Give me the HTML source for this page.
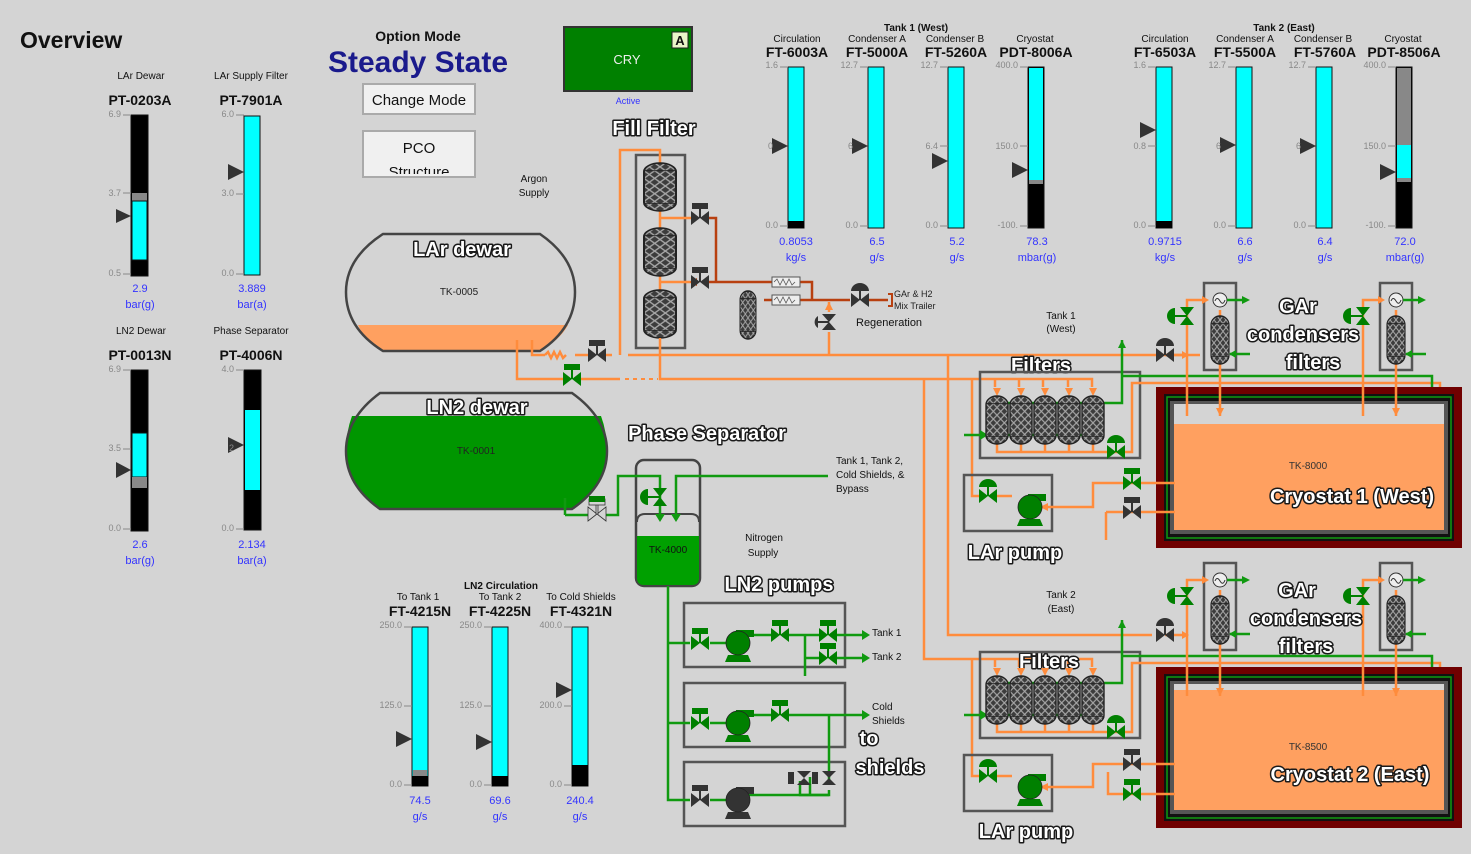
<!DOCTYPE html>
<html><head><meta charset="utf-8"><style>
html,body{margin:0;padding:0;background:#d4d4d4;}
svg{display:block;font-family:"Liberation Sans",sans-serif;}
.o{fill:#fff;stroke:#1a1a1a;stroke-width:3;paint-order:stroke;font-weight:bold;font-size:20px;stroke-linejoin:round;}
.sm{font-size:10px;fill:#111;}
.tag{font-size:14px;font-weight:bold;fill:#111;}
.sc{font-size:9px;fill:#888;}
.val{font-size:11px;fill:#3333ff;}
.pO{stroke:#ff8c3c;stroke-width:2.5;fill:none;}
.pG{stroke:#109a10;stroke-width:2.5;fill:none;}
.pB{stroke:#b84010;stroke-width:2.5;fill:none;}
.box{fill:none;stroke:#555;stroke-width:2.5;}
</style></head><body>
<svg width="1471" height="854" viewBox="0 0 1471 854" xmlns="http://www.w3.org/2000/svg">
<defs>
<pattern id="hx" width="8" height="8" patternUnits="userSpaceOnUse">
<rect width="8" height="8" fill="#3c3c3c"/>
<path d="M0,0 L8,8 M8,0 L0,8" stroke="#a8a8a8" stroke-width="1.2"/>
</pattern>
<symbol id="ves" viewBox="0 0 24 50" preserveAspectRatio="none" overflow="visible">
<rect x="0" y="0" width="24" height="50" rx="12" ry="9" fill="url(#hx)" stroke="#222" stroke-width="1.5"/>
<line x1="0" y1="8" x2="24" y2="8" stroke="#222"/><line x1="0" y1="42" x2="24" y2="42" stroke="#222"/>
</symbol>
<symbol id="vR" overflow="visible"><polygon points="-9,-7 0,0 -9,7"/><polygon points="9,-7 0,0 9,7"/><rect x="-1" y="-10" width="2" height="10"/><rect x="-8" y="-15" width="16" height="6"/></symbol>
<symbol id="vD" overflow="visible"><polygon points="-9,-7 0,0 -9,7"/><polygon points="9,-7 0,0 9,7"/><rect x="-1" y="-10" width="2" height="10"/><path d="M-9,-9 A9,8 0 0 1 9,-9 Z"/></symbol>
<symbol id="vV" overflow="visible"><polygon points="-7,-9 0,0 7,-9"/><polygon points="-7,9 0,0 7,9"/><rect x="-12" y="-1" width="12" height="2"/><path d="M-12,-8 A8,8 0 0 0 -12,8 Z"/></symbol>
<symbol id="pump" overflow="visible"><rect x="-2" y="-13" width="18" height="7"/><polygon points="-10,12 10,12 13,19 -13,19"/><circle cx="0" cy="0" r="12" stroke="#222" stroke-width="0.8"/></symbol>
</defs>
<rect width="1471" height="854" fill="#d4d4d4"/>

<!-- Titles -->
<text x="20" y="48" font-size="23" font-weight="bold" fill="#111">Overview</text>
<text x="418" y="41" text-anchor="middle" font-size="14" font-weight="bold" fill="#111">Option Mode</text>
<text x="418" y="72" text-anchor="middle" font-size="30" font-weight="bold" fill="#1a1a8c">Steady State</text>
<rect x="363" y="84" width="112" height="30" fill="#f0f0f0" stroke="#aaa" stroke-width="2"/>
<text x="419" y="105" text-anchor="middle" font-size="15" fill="#111">Change Mode</text>
<rect x="363" y="131" width="112" height="46" fill="#f0f0f0" stroke="#aaa" stroke-width="2"/>
<text x="419" y="153" text-anchor="middle" font-size="15" fill="#111">PCO</text>
<svg x="363" y="131" width="112" height="43" overflow="hidden"><text x="56" y="46" text-anchor="middle" font-size="15" fill="#111">Structure</text></svg>
<rect x="564" y="27" width="128" height="64" fill="#008000" stroke="#333" stroke-width="2"/>
<text x="627" y="64" text-anchor="middle" font-size="13" fill="#eee">CRY</text>
<rect x="672" y="32" width="16" height="16" fill="#eaf5c8" stroke="#222"/>
<text x="680" y="45" text-anchor="middle" font-size="13" font-weight="bold" fill="#111">A</text>
<text x="628" y="104" text-anchor="middle" font-size="9" fill="#3333ff">Active</text>

<!-- Left gauges -->
<g>
<text x="141" y="79" text-anchor="middle" class="sm">LAr Dewar</text>
<text x="140" y="105" text-anchor="middle" class="tag">PT-0203A</text>
<rect x="131" y="115" width="17" height="161" fill="#000" stroke="#111"/>
<rect x="132" y="193" width="15" height="8" fill="#888"/>
<rect x="132" y="201" width="15" height="59" fill="#00ffff" stroke="#111"/>
<polygon points="116,209 131,216 116,223" fill="#333"/>
<text x="121" y="117" text-anchor="end" class="sc">6.9</text><line x1="123" y1="115" x2="131" y2="115" stroke="#888"/>
<text x="121" y="196" text-anchor="end" class="sc">3.7</text><line x1="123" y1="193" x2="131" y2="193" stroke="#888"/>
<text x="121" y="276" text-anchor="end" class="sc">0.5</text><line x1="123" y1="274" x2="131" y2="274" stroke="#888"/>
<text x="140" y="292" text-anchor="middle" class="val">2.9</text><text x="140" y="308" text-anchor="middle" class="val">bar(g)</text>

<text x="251" y="79" text-anchor="middle" class="sm">LAr Supply Filter</text>
<text x="251" y="105" text-anchor="middle" class="tag">PT-7901A</text>
<rect x="244" y="116" width="16" height="159" fill="#00ffff" stroke="#111"/>
<polygon points="228,164 244,172 228,180" fill="#333"/>
<text x="234" y="117" text-anchor="end" class="sc">6.0</text><line x1="236" y1="115" x2="244" y2="115" stroke="#888"/>
<text x="234" y="196" text-anchor="end" class="sc">3.0</text><line x1="236" y1="194" x2="244" y2="194" stroke="#888"/>
<text x="234" y="276" text-anchor="end" class="sc">0.0</text><line x1="236" y1="274" x2="244" y2="274" stroke="#888"/>
<text x="252" y="292" text-anchor="middle" class="val">3.889</text><text x="252" y="308" text-anchor="middle" class="val">bar(a)</text>

<text x="141" y="334" text-anchor="middle" class="sm">LN2 Dewar</text>
<text x="140" y="360" text-anchor="middle" class="tag">PT-0013N</text>
<rect x="131" y="370" width="17" height="161" fill="#000" stroke="#111"/>
<rect x="132" y="433" width="15" height="44" fill="#00ffff" stroke="#111"/>
<rect x="132" y="477" width="15" height="11" fill="#888"/>
<polygon points="116,462 131,470 116,478" fill="#333"/>
<text x="121" y="372" text-anchor="end" class="sc">6.9</text><line x1="123" y1="370" x2="131" y2="370" stroke="#888"/>
<text x="121" y="451" text-anchor="end" class="sc">3.5</text><line x1="123" y1="449" x2="131" y2="449" stroke="#888"/>
<text x="121" y="531" text-anchor="end" class="sc">0.0</text><line x1="123" y1="529" x2="131" y2="529" stroke="#888"/>
<text x="140" y="548" text-anchor="middle" class="val">2.6</text><text x="140" y="564" text-anchor="middle" class="val">bar(g)</text>

<text x="251" y="334" text-anchor="middle" class="sm">Phase Separator</text>
<text x="251" y="360" text-anchor="middle" class="tag">PT-4006N</text>
<rect x="244" y="370" width="17" height="160" fill="#000" stroke="#111"/>
<rect x="245" y="410" width="15" height="80" fill="#00ffff"/>
<polygon points="228,437 244,445 228,453" fill="#333"/>
<text x="234" y="372" text-anchor="end" class="sc">4.0</text><line x1="236" y1="370" x2="244" y2="370" stroke="#888"/>
<text x="234" y="451" text-anchor="end" class="sc">2</text>
<text x="234" y="531" text-anchor="end" class="sc">0.0</text><line x1="236" y1="529" x2="244" y2="529" stroke="#888"/>
<text x="252" y="548" text-anchor="middle" class="val">2.134</text><text x="252" y="564" text-anchor="middle" class="val">bar(a)</text>
</g>

<!-- Top gauges Tank1 -->
<text x="916" y="31" text-anchor="middle" font-size="10" font-weight="bold" fill="#111">Tank 1 (West)</text>
<text x="797" y="42" text-anchor="middle" class="sm">Circulation</text>
<text x="877" y="42" text-anchor="middle" class="sm">Condenser A</text>
<text x="955" y="42" text-anchor="middle" class="sm">Condenser B</text>
<text x="1035" y="42" text-anchor="middle" class="sm">Cryostat</text>
<text x="797" y="57" text-anchor="middle" class="tag">FT-6003A</text>
<text x="877" y="57" text-anchor="middle" class="tag">FT-5000A</text>
<text x="956" y="57" text-anchor="middle" class="tag">FT-5260A</text>
<text x="1036" y="57" text-anchor="middle" class="tag">PDT-8006A</text>
<g>
<rect x="788" y="67" width="16" height="161" fill="#00ffff" stroke="#111"/><rect x="788" y="221" width="16" height="7" fill="#000"/>
<polygon points="772,138 788,146 772,154" fill="#333"/>
<text x="778" y="68" text-anchor="end" class="sc">1.6</text><line x1="780" y1="67" x2="788" y2="67" stroke="#888"/>
<text x="773" y="149" text-anchor="end" class="sc">0</text>
<text x="778" y="228" text-anchor="end" class="sc">0.0</text><line x1="780" y1="226" x2="788" y2="226" stroke="#888"/>
<text x="796" y="245" text-anchor="middle" class="val">0.8053</text><text x="796" y="261" text-anchor="middle" class="val">kg/s</text>

<rect x="868" y="67" width="16" height="161" fill="#00ffff" stroke="#111"/>
<polygon points="852,138 868,146 852,154" fill="#333"/>
<text x="858" y="68" text-anchor="end" class="sc">12.7</text><line x1="860" y1="67" x2="868" y2="67" stroke="#888"/>
<text x="853" y="149" text-anchor="end" class="sc">6</text>
<text x="858" y="228" text-anchor="end" class="sc">0.0</text><line x1="860" y1="226" x2="868" y2="226" stroke="#888"/>
<text x="877" y="245" text-anchor="middle" class="val">6.5</text><text x="877" y="261" text-anchor="middle" class="val">g/s</text>

<rect x="948" y="67" width="16" height="161" fill="#00ffff" stroke="#111"/>
<polygon points="932,153 948,161 932,169" fill="#333"/>
<text x="938" y="68" text-anchor="end" class="sc">12.7</text><line x1="940" y1="67" x2="948" y2="67" stroke="#888"/>
<text x="938" y="149" text-anchor="end" class="sc">6.4</text><line x1="940" y1="146" x2="948" y2="146" stroke="#888"/>
<text x="938" y="228" text-anchor="end" class="sc">0.0</text><line x1="940" y1="226" x2="948" y2="226" stroke="#888"/>
<text x="957" y="245" text-anchor="middle" class="val">5.2</text><text x="957" y="261" text-anchor="middle" class="val">g/s</text>

<rect x="1028" y="67" width="16" height="161" fill="#000" stroke="#111"/><rect x="1029" y="68" width="14" height="112" fill="#00ffff"/><rect x="1029" y="180" width="14" height="4" fill="#888"/>
<polygon points="1012,162 1028,170 1012,178" fill="#333"/>
<text x="1018" y="68" text-anchor="end" class="sc">400.0</text><line x1="1020" y1="67" x2="1028" y2="67" stroke="#888"/>
<text x="1018" y="149" text-anchor="end" class="sc">150.0</text><line x1="1020" y1="146" x2="1028" y2="146" stroke="#888"/>
<text x="1018" y="228" text-anchor="end" class="sc">-100.</text><line x1="1020" y1="226" x2="1028" y2="226" stroke="#888"/>
<text x="1037" y="245" text-anchor="middle" class="val">78.3</text><text x="1037" y="261" text-anchor="middle" class="val">mbar(g)</text>
</g>
<!-- Tank2 gauges -->
<text x="1284" y="31" text-anchor="middle" font-size="10" font-weight="bold" fill="#111">Tank 2 (East)</text>
<text x="1165" y="42" text-anchor="middle" class="sm">Circulation</text>
<text x="1245" y="42" text-anchor="middle" class="sm">Condenser A</text>
<text x="1323" y="42" text-anchor="middle" class="sm">Condenser B</text>
<text x="1403" y="42" text-anchor="middle" class="sm">Cryostat</text>
<text x="1165" y="57" text-anchor="middle" class="tag">FT-6503A</text>
<text x="1245" y="57" text-anchor="middle" class="tag">FT-5500A</text>
<text x="1325" y="57" text-anchor="middle" class="tag">FT-5760A</text>
<text x="1404" y="57" text-anchor="middle" class="tag">PDT-8506A</text>
<g>
<rect x="1156" y="67" width="16" height="161" fill="#00ffff" stroke="#111"/><rect x="1156" y="221" width="16" height="7" fill="#000"/>
<polygon points="1140,122 1156,130 1140,138" fill="#333"/>
<text x="1146" y="68" text-anchor="end" class="sc">1.6</text><line x1="1148" y1="67" x2="1156" y2="67" stroke="#888"/>
<text x="1146" y="149" text-anchor="end" class="sc">0.8</text><line x1="1148" y1="146" x2="1156" y2="146" stroke="#888"/>
<text x="1146" y="228" text-anchor="end" class="sc">0.0</text><line x1="1148" y1="226" x2="1156" y2="226" stroke="#888"/>
<text x="1165" y="245" text-anchor="middle" class="val">0.9715</text><text x="1165" y="261" text-anchor="middle" class="val">kg/s</text>

<rect x="1236" y="67" width="16" height="161" fill="#00ffff" stroke="#111"/>
<polygon points="1220,137 1236,145 1220,153" fill="#333"/>
<text x="1226" y="68" text-anchor="end" class="sc">12.7</text><line x1="1228" y1="67" x2="1236" y2="67" stroke="#888"/>
<text x="1221" y="149" text-anchor="end" class="sc">6</text>
<text x="1226" y="228" text-anchor="end" class="sc">0.0</text><line x1="1228" y1="226" x2="1236" y2="226" stroke="#888"/>
<text x="1245" y="245" text-anchor="middle" class="val">6.6</text><text x="1245" y="261" text-anchor="middle" class="val">g/s</text>

<rect x="1316" y="67" width="16" height="161" fill="#00ffff" stroke="#111"/>
<polygon points="1300,138 1316,146 1300,154" fill="#333"/>
<text x="1306" y="68" text-anchor="end" class="sc">12.7</text><line x1="1308" y1="67" x2="1316" y2="67" stroke="#888"/>
<text x="1301" y="149" text-anchor="end" class="sc">6</text>
<text x="1306" y="228" text-anchor="end" class="sc">0.0</text><line x1="1308" y1="226" x2="1316" y2="226" stroke="#888"/>
<text x="1325" y="245" text-anchor="middle" class="val">6.4</text><text x="1325" y="261" text-anchor="middle" class="val">g/s</text>

<rect x="1396" y="67" width="16" height="161" fill="#000" stroke="#111"/><rect x="1397" y="68" width="14" height="77" fill="#888"/><rect x="1397" y="145" width="14" height="33" fill="#00ffff"/><rect x="1397" y="178" width="14" height="4" fill="#888"/>
<polygon points="1380,164 1396,172 1380,180" fill="#333"/>
<text x="1386" y="68" text-anchor="end" class="sc">400.0</text><line x1="1388" y1="67" x2="1396" y2="67" stroke="#888"/>
<text x="1386" y="149" text-anchor="end" class="sc">150.0</text><line x1="1388" y1="146" x2="1396" y2="146" stroke="#888"/>
<text x="1386" y="228" text-anchor="end" class="sc">-100.</text><line x1="1388" y1="226" x2="1396" y2="226" stroke="#888"/>
<text x="1405" y="245" text-anchor="middle" class="val">72.0</text><text x="1405" y="261" text-anchor="middle" class="val">mbar(g)</text>
</g>

<!-- Bottom gauges -->
<text x="418" y="600" text-anchor="middle" class="sm">To Tank 1</text>
<text x="501" y="589" text-anchor="middle" font-size="10" font-weight="bold" fill="#111">LN2 Circulation</text>
<text x="500" y="600" text-anchor="middle" class="sm">To Tank 2</text>
<text x="581" y="600" text-anchor="middle" class="sm">To Cold Shields</text>
<text x="420" y="616" text-anchor="middle" class="tag">FT-4215N</text>
<text x="500" y="616" text-anchor="middle" class="tag">FT-4225N</text>
<text x="581" y="616" text-anchor="middle" class="tag">FT-4321N</text>
<g>
<rect x="412" y="627" width="16" height="159" fill="#00ffff" stroke="#111"/><rect x="413" y="770" width="14" height="6" fill="#888"/><rect x="412" y="776" width="16" height="10" fill="#000"/>
<polygon points="396,731 412,739 396,747" fill="#333"/>
<text x="402" y="628" text-anchor="end" class="sc">250.0</text><line x1="404" y1="627" x2="412" y2="627" stroke="#888"/>
<text x="402" y="708" text-anchor="end" class="sc">125.0</text><line x1="404" y1="706" x2="412" y2="706" stroke="#888"/>
<text x="402" y="787" text-anchor="end" class="sc">0.0</text><line x1="404" y1="785" x2="412" y2="785" stroke="#888"/>
<text x="420" y="804" text-anchor="middle" class="val">74.5</text><text x="420" y="820" text-anchor="middle" class="val">g/s</text>

<rect x="492" y="627" width="16" height="159" fill="#00ffff" stroke="#111"/><rect x="492" y="776" width="16" height="10" fill="#000"/>
<polygon points="476,734 492,742 476,750" fill="#333"/>
<text x="482" y="628" text-anchor="end" class="sc">250.0</text><line x1="484" y1="627" x2="492" y2="627" stroke="#888"/>
<text x="482" y="708" text-anchor="end" class="sc">125.0</text><line x1="484" y1="706" x2="492" y2="706" stroke="#888"/>
<text x="482" y="787" text-anchor="end" class="sc">0.0</text><line x1="484" y1="785" x2="492" y2="785" stroke="#888"/>
<text x="500" y="804" text-anchor="middle" class="val">69.6</text><text x="500" y="820" text-anchor="middle" class="val">g/s</text>

<rect x="572" y="627" width="16" height="159" fill="#00ffff" stroke="#111"/><rect x="572" y="765" width="16" height="21" fill="#000"/>
<polygon points="556,682 572,690 556,698" fill="#333"/>
<text x="562" y="628" text-anchor="end" class="sc">400.0</text><line x1="564" y1="627" x2="572" y2="627" stroke="#888"/>
<text x="562" y="708" text-anchor="end" class="sc">200.0</text><line x1="564" y1="706" x2="572" y2="706" stroke="#888"/>
<text x="562" y="787" text-anchor="end" class="sc">0.0</text><line x1="564" y1="785" x2="572" y2="785" stroke="#888"/>
<text x="580" y="804" text-anchor="middle" class="val">240.4</text><text x="580" y="820" text-anchor="middle" class="val">g/s</text>
</g>

<!-- LAr dewar -->
<path d="M383,234 H540 Q575,258 575,292 Q575,328 540,351 H383 Q346,328 346,292 Q346,258 383,234 Z" fill="#d4d4d4"/>
<path d="M358,325 H568 Q560,340 540,351 H383 Q364,340 358,325 Z" fill="#ffa060"/>
<path d="M383,234 H540 Q575,258 575,292 Q575,328 540,351 H383 Q346,328 346,292 Q346,258 383,234 Z" fill="none" stroke="#444" stroke-width="2.5"/>
<text x="462" y="256" text-anchor="middle" class="o">LAr dewar</text>
<text x="459" y="295" text-anchor="middle" font-size="10" fill="#222">TK-0005</text>
<text x="534" y="182" text-anchor="middle" class="sm">Argon</text>
<text x="534" y="196" text-anchor="middle" class="sm">Supply</text>

<!-- LN2 dewar -->
<path d="M380,393 H572 Q607,418 607,451 Q607,485 572,509 H380 Q346,485 346,451 Q346,418 380,393 Z" fill="#d4d4d4"/>
<path d="M352,416 H601 Q607,432 607,451 Q607,485 572,509 H380 Q346,485 346,451 Q346,432 352,416 Z" fill="#009600"/>
<path d="M380,393 H572 Q607,418 607,451 Q607,485 572,509 H380 Q346,485 346,451 Q346,418 380,393 Z" fill="none" stroke="#444" stroke-width="2.5"/>
<text x="477" y="414" text-anchor="middle" class="o">LN2 dewar</text>
<text x="476" y="454" text-anchor="middle" font-size="10" fill="#222">TK-0001</text>

<!-- Phase separator -->
<rect x="636" y="460" width="64" height="126" rx="8" fill="#d4d4d4" stroke="#444" stroke-width="2.5"/>
<path d="M637,536 H699 V578 Q699,585 692,585 H644 Q637,585 637,578 Z" fill="#00a000"/>
<path d="M637,522 Q637,514 645,514 H691 Q699,514 699,522" fill="none" stroke="#444" stroke-width="2"/>
<text x="668" y="553" text-anchor="middle" font-size="10" fill="#111">TK-4000</text>
<text x="707" y="440" text-anchor="middle" class="o">Phase Separator</text>
<path class="pG" d="M565,515 H589 M605,515 H618 V476 H660 V520 M676,520 V476 H828"/>
<polygon points="655,514 660,522 665,514" fill="#109a10"/><polygon points="671,514 676,522 681,514" fill="#109a10"/>
<use href="#vV" x="660" y="497" fill="#008000"/>
<use href="#vR" x="597" y="514" fill="#d4d4d4" stroke="#333" stroke-width="0.8"/>
<rect x="589" y="496" width="16" height="6" fill="#008000"/>
<path class="pG" d="M565,498 V515"/>
<text x="836" y="464" class="sm" font-size="9.5">Tank 1, Tank 2,</text>
<text x="836" y="478" class="sm" font-size="9.5">Cold Shields, &amp;</text>
<text x="836" y="492" class="sm" font-size="9.5">Bypass</text>
<text x="764" y="541" text-anchor="middle" class="sm">Nitrogen</text>
<text x="763" y="556" text-anchor="middle" class="sm">Supply</text>

<!-- LN2 pumps -->
<text x="779" y="591" text-anchor="middle" class="o">LN2 pumps</text>
<rect x="684" y="603" width="161" height="64" class="box"/>
<rect x="684" y="683" width="161" height="64" class="box"/>
<rect x="684" y="762" width="161" height="64" class="box"/>
<path class="pG" d="M668,586 V800 H690 M668,643 H690 M668,723 H690"/>
<path class="pG" d="M710,643 H728 M748,635 H772 M788,635 H820 M836,635 H862 M805,635 V658 H820 M836,658 H862 M805,658 V676"/>
<polygon points="862,630 870,635 862,640" fill="#109a10"/><polygon points="862,653 870,658 862,663" fill="#109a10"/>
<path class="pG" d="M710,723 H728 M748,715 H772 M788,715 H862 M829,715 V781 M829,790 V795 H800 V781 M810,795 V777"/>
<polygon points="862,710 870,715 862,720" fill="#109a10"/>
<path class="pG" d="M710,800 H728 M748,795 H829"/>
<use href="#pump" x="738" y="643" fill="#008000"/>
<use href="#pump" x="738" y="723" fill="#008000"/>
<use href="#pump" x="738" y="800" fill="#333"/>
<use href="#vR" x="700" y="643" fill="#008000"/>
<use href="#vR" x="780" y="635" fill="#008000"/>
<use href="#vR" x="828" y="635" fill="#008000"/>
<use href="#vR" x="828" y="658" fill="#008000"/>
<use href="#vR" x="700" y="723" fill="#008000"/>
<use href="#vR" x="780" y="715" fill="#008000"/>
<use href="#vR" x="700" y="800" fill="#333"/>
<g fill="#333"><polygon points="797,771 804,778 811,771"/><polygon points="797,785 804,778 811,785"/><rect x="788" y="772" width="6" height="12"/></g>
<g fill="#333"><polygon points="822,771 829,778 836,771"/><polygon points="822,785 829,778 836,785"/><rect x="812" y="772" width="6" height="12"/></g>
<text x="872" y="636" class="sm">Tank 1</text>
<text x="872" y="660" class="sm">Tank 2</text>
<text x="872" y="710" class="sm">Cold</text>
<text x="872" y="724" class="sm">Shields</text>
<text x="869" y="745" text-anchor="middle" class="o">to</text>
<text x="890" y="774" text-anchor="middle" class="o">shields</text>

<!-- Fill filter -->
<text x="654" y="135" text-anchor="middle" class="o">Fill Filter</text>
<rect x="636" y="155" width="49" height="193" class="box"/>
<path class="pO" d="M620,355 V150 H660 V163"/>
<path class="pO" d="M660,210 V228 M660,275 V290 M660,218 H692 M660,282 H692"/>
<use href="#ves" x="644" y="163" width="32" height="48"/>
<use href="#ves" x="644" y="228" width="32" height="48"/>
<use href="#ves" x="644" y="290" width="32" height="48"/>
<path class="pB" d="M708,218 H716 V282 H708 M716,282 H772 M800,282 H812 V300 H800 M772,300 H764 M812,300 H850 M868,300 H888"/>
<polygon points="690,282 697,278 697,286" fill="#b84010"/>
<rect x="772" y="277" width="28" height="10" fill="#eee" stroke="#555"/>
<rect x="772" y="295" width="28" height="10" fill="#eee" stroke="#555"/>
<path d="M774,282 l3,-3 l3,6 l3,-6 l3,6 l3,-6 l3,6 l3,-3 M774,300 l3,-3 l3,6 l3,-6 l3,6 l3,-6 l3,6 l3,-3" stroke="#555" fill="none" stroke-width="0.8"/>
<use href="#ves" x="740" y="291" width="16" height="48"/>
<use href="#vR" x="700" y="218" fill="#333"/>
<use href="#vR" x="700" y="282" fill="#333"/>
<use href="#vD" x="860" y="300" fill="#333"/>
<path d="M888,294 H892 V306 H888" stroke="#b84010" fill="none" stroke-width="2"/>
<text x="894" y="297" font-size="9" fill="#222">GAr &amp; H2</text>
<text x="894" y="309" font-size="9" fill="#222">Mix Trailer</text>
<g fill="#333"><polygon points="822,314 829,322 836,314"/><polygon points="822,330 829,322 836,330"/><path d="M818,316 A7,7 0 0 0 818,328 Z"/><rect x="818" y="321" width="11" height="2"/></g>
<path class="pO" d="M829,355 V332 M829,312 V302"/>
<polygon points="825,310 829,302 833,310" fill="#ff8c3c"/>
<text x="856" y="326" font-size="11" fill="#111">Regeneration</text>

<!-- main orange pipes -->
<path class="pO" d="M532,340 V355 H545 M575,355 H590 M605,355 H612 M628,355 H1200"/>
<path d="M545,355 l3,-3 l3,6 l3,-6 l3,6 l3,-6 l3,6 l3,-3" class="pO" stroke-width="1.5"/>
<use href="#vR" x="597" y="355" fill="#333" />
<path class="pO" d="M517,340 V379 H563 M581,379 H620 M660,338 V379 H1092 V387 M995,379 V387 M1019,379 V387 M1043,379 V387 M1068,379 V387"/>
<path d="M625,379 H658" stroke="#ff8c3c" stroke-width="2" stroke-dasharray="4,4"/>
<use href="#vR" x="572" y="379" fill="#008000"/>
<path class="pO" d="M948,355 V635 H1152 M924,379 V659 H1092 V667 M995,659 V667 M1019,659 V667 M1043,659 V667 M1068,659 V667"/>
<path class="pO" d="M972,379 V496 H980 M972,659 V776 H980"/>

<!-- Filters 1 -->
<text x="1041" y="372" text-anchor="middle" class="o">Filters</text>
<rect x="980" y="372" width="160" height="86" class="box"/>
<g fill="#ff8c3c"><polygon points="993,388 997,396 1001,388"/><polygon points="1017,388 1021,396 1025,388"/><polygon points="1041,388 1045,396 1049,388"/><polygon points="1065,388 1069,396 1073,388"/><polygon points="1089,388 1093,396 1097,388"/></g>
<path class="pG" d="M964,435 H985 M1000,403 H1122 V340 M1000,435 H1093"/>
<polygon points="980,430 988,435 980,440" fill="#109a10"/><polygon points="1118,348 1122,340 1126,348" fill="#109a10"/>
<path class="pO" d="M997,444 V452 H1132 V383 H1440 V410 M1021,444 V452 M1045,444 V452 M1069,444 V452 M1093,444 V452"/>
<path class="pG" d="M1122,376 H1432 V392"/>
<use href="#ves" x="986" y="396" width="22" height="48"/>
<use href="#ves" x="1010" y="396" width="22" height="48"/>
<use href="#ves" x="1034" y="396" width="22" height="48"/>
<use href="#ves" x="1058" y="396" width="22" height="48"/>
<use href="#ves" x="1082" y="396" width="22" height="48"/>
<use href="#vD" x="1116" y="452" fill="#008000"/>

<!-- Filters 2 -->
<text x="1049" y="668" text-anchor="middle" class="o">Filters</text>
<rect x="980" y="652" width="160" height="86" class="box"/>
<g fill="#ff8c3c"><polygon points="993,668 997,676 1001,668"/><polygon points="1017,668 1021,676 1025,668"/><polygon points="1041,668 1045,676 1049,668"/><polygon points="1065,668 1069,676 1073,668"/><polygon points="1089,668 1093,676 1097,668"/></g>
<path class="pG" d="M964,715 H985 M1000,683 H1122 V620 M1000,715 H1093"/>
<polygon points="980,710 988,715 980,720" fill="#109a10"/><polygon points="1118,628 1122,620 1126,628" fill="#109a10"/>
<path class="pO" d="M997,724 V732 H1132 V663 H1440 V690 M1021,724 V732 M1045,724 V732 M1069,724 V732 M1093,724 V732"/>
<path class="pG" d="M1122,656 H1432 V672"/>
<use href="#ves" x="986" y="676" width="22" height="48"/>
<use href="#ves" x="1010" y="676" width="22" height="48"/>
<use href="#ves" x="1034" y="676" width="22" height="48"/>
<use href="#ves" x="1058" y="676" width="22" height="48"/>
<use href="#ves" x="1082" y="676" width="22" height="48"/>
<use href="#vD" x="1116" y="732" fill="#008000"/>

<text x="1061" y="319" text-anchor="middle" class="sm">Tank 1</text>
<text x="1061" y="332" text-anchor="middle" class="sm">(West)</text>
<text x="1061" y="598" text-anchor="middle" class="sm">Tank 2</text>
<text x="1061" y="612" text-anchor="middle" class="sm">(East)</text>

<!-- Cryostat 1 -->
<rect x="1156" y="387" width="306" height="161" fill="#700000"/>
<rect x="1164" y="394" width="290" height="147" fill="#111"/>
<rect x="1167" y="397" width="284" height="141" fill="none" stroke="#109a10" stroke-width="1.5"/>
<rect x="1170" y="401" width="278" height="133" fill="#555"/>
<rect x="1174" y="404" width="270" height="126" fill="#d4d4d4"/>
<rect x="1174" y="424" width="270" height="106" fill="#ffa060"/>
<text x="1308" y="469" text-anchor="middle" font-size="10" fill="#333">TK-8000</text>
<text x="1352" y="503" text-anchor="middle" class="o">Cryostat 1 (West)</text>
<!-- Cryostat 2 -->
<rect x="1156" y="667" width="306" height="161" fill="#700000"/>
<rect x="1164" y="674" width="290" height="147" fill="#111"/>
<rect x="1167" y="677" width="284" height="141" fill="none" stroke="#109a10" stroke-width="1.5"/>
<rect x="1170" y="681" width="278" height="133" fill="#555"/>
<rect x="1174" y="684" width="270" height="126" fill="#d4d4d4"/>
<rect x="1174" y="690" width="270" height="120" fill="#ffa060"/>
<text x="1308" y="750" text-anchor="middle" font-size="10" fill="#333">TK-8500</text>
<text x="1350" y="781" text-anchor="middle" class="o">Cryostat 2  (East)</text>

<!-- condensers top -->
<g>
<rect x="1204" y="283" width="32" height="87" class="box"/>
<path class="pO" d="M1187,355 V300 H1205 M1187,355 V416 M1220,310 V416"/>
<path class="pO" d="M1165,355 H1182"/>
<polygon points="1182,351 1189,355 1182,359" fill="#ff8c3c"/>
<polygon points="1202,296 1209,300 1202,304" fill="#ff8c3c"/>
<polygon points="1216,408 1220,416 1224,408" fill="#ff8c3c"/>
<circle cx="1220" cy="300" r="7" fill="#eee" stroke="#333"/><path d="M1215,301 q2,-5 5,0 q3,5 5,-1" stroke="#333" fill="none"/>
<path class="pG" d="M1227,300 H1242 M1230,354 H1250"/>
<polygon points="1242,296 1250,300 1242,304" fill="#109a10"/><polygon points="1236,350 1229,354 1236,358" fill="#109a10"/>
<use href="#ves" x="1211" y="316" width="18" height="48"/>
<use href="#vV" x="1187" y="316" fill="#008000"/>
<use href="#vD" x="1165" y="355" fill="#333"/>
</g>
<g>
<rect x="1380" y="283" width="32" height="87" class="box"/>
<path class="pO" d="M1363,416 V300 H1381 M1396,310 V416"/>
<polygon points="1378,296 1385,300 1378,304" fill="#ff8c3c"/>
<polygon points="1392,408 1396,416 1400,408" fill="#ff8c3c"/>
<circle cx="1396" cy="300" r="7" fill="#eee" stroke="#333"/><path d="M1391,301 q2,-5 5,0 q3,5 5,-1" stroke="#333" fill="none"/>
<path class="pG" d="M1403,300 H1418 M1406,354 H1426"/>
<polygon points="1418,296 1426,300 1418,304" fill="#109a10"/><polygon points="1412,350 1405,354 1412,358" fill="#109a10"/>
<use href="#ves" x="1387" y="316" width="18" height="48"/>
<use href="#vV" x="1363" y="316" fill="#008000"/>
</g>
<text x="1298" y="313" text-anchor="middle" class="o">GAr</text>
<text x="1303" y="341" text-anchor="middle" class="o">condensers</text>
<text x="1313" y="369" text-anchor="middle" class="o">filters</text>

<!-- condensers bottom -->
<g>
<rect x="1204" y="563" width="32" height="87" class="box"/>
<path class="pO" d="M1165,635 H1182 M1187,635 V580 H1205 M1187,635 V696 M1220,590 V696"/>
<polygon points="1182,631 1189,635 1182,639" fill="#ff8c3c"/>
<polygon points="1202,576 1209,580 1202,584" fill="#ff8c3c"/>
<polygon points="1216,688 1220,696 1224,688" fill="#ff8c3c"/>
<circle cx="1220" cy="580" r="7" fill="#eee" stroke="#333"/><path d="M1215,581 q2,-5 5,0 q3,5 5,-1" stroke="#333" fill="none"/>
<path class="pG" d="M1227,580 H1242 M1230,634 H1250"/>
<polygon points="1242,576 1250,580 1242,584" fill="#109a10"/><polygon points="1236,630 1229,634 1236,638" fill="#109a10"/>
<use href="#ves" x="1211" y="596" width="18" height="48"/>
<use href="#vV" x="1187" y="596" fill="#008000"/>
<use href="#vD" x="1165" y="635" fill="#333"/>
</g>
<g>
<rect x="1380" y="563" width="32" height="87" class="box"/>
<path class="pO" d="M1363,696 V580 H1381 M1396,590 V696"/>
<polygon points="1378,576 1385,580 1378,584" fill="#ff8c3c"/>
<polygon points="1392,688 1396,696 1400,688" fill="#ff8c3c"/>
<circle cx="1396" cy="580" r="7" fill="#eee" stroke="#333"/><path d="M1391,581 q2,-5 5,0 q3,5 5,-1" stroke="#333" fill="none"/>
<path class="pG" d="M1403,580 H1418 M1406,634 H1426"/>
<polygon points="1418,576 1426,580 1418,584" fill="#109a10"/><polygon points="1412,630 1405,634 1412,638" fill="#109a10"/>
<use href="#ves" x="1387" y="596" width="18" height="48"/>
<use href="#vV" x="1363" y="596" fill="#008000"/>
</g>
<text x="1297" y="597" text-anchor="middle" class="o">GAr</text>
<text x="1306" y="625" text-anchor="middle" class="o">condensers</text>
<text x="1306" y="653" text-anchor="middle" class="o">filters</text>

<!-- LAr pumps -->
<rect x="964" y="475" width="88" height="56" class="box"/>
<path class="pO" d="M996,496 H1012 M1040,507 H1093 V483 H1175 M1106,512 V540 M1106,512 H1175"/>
<polygon points="1048,503 1040,507 1048,511" fill="#ff8c3c"/>
<use href="#pump" x="1030" y="507" fill="#008000"/>
<use href="#vD" x="988" y="496" fill="#008000"/>
<use href="#vR" x="1132" y="483" fill="#008000"/>
<use href="#vR" x="1132" y="512" fill="#333"/>
<text x="1015" y="559" text-anchor="middle" class="o">LAr pump</text>

<rect x="964" y="755" width="88" height="56" class="box"/>
<path class="pO" d="M996,776 H1012 M1040,787 H1093 V764 H1175 M1108,772 V794 H1175"/>
<polygon points="1048,783 1040,787 1048,791" fill="#ff8c3c"/>
<use href="#pump" x="1030" y="787" fill="#008000"/>
<use href="#vD" x="988" y="776" fill="#008000"/>
<use href="#vR" x="1132" y="764" fill="#333"/>
<use href="#vR" x="1132" y="794" fill="#008000"/>
<text x="1026" y="838" text-anchor="middle" class="o">LAr pump</text>
</svg>
</body></html>
